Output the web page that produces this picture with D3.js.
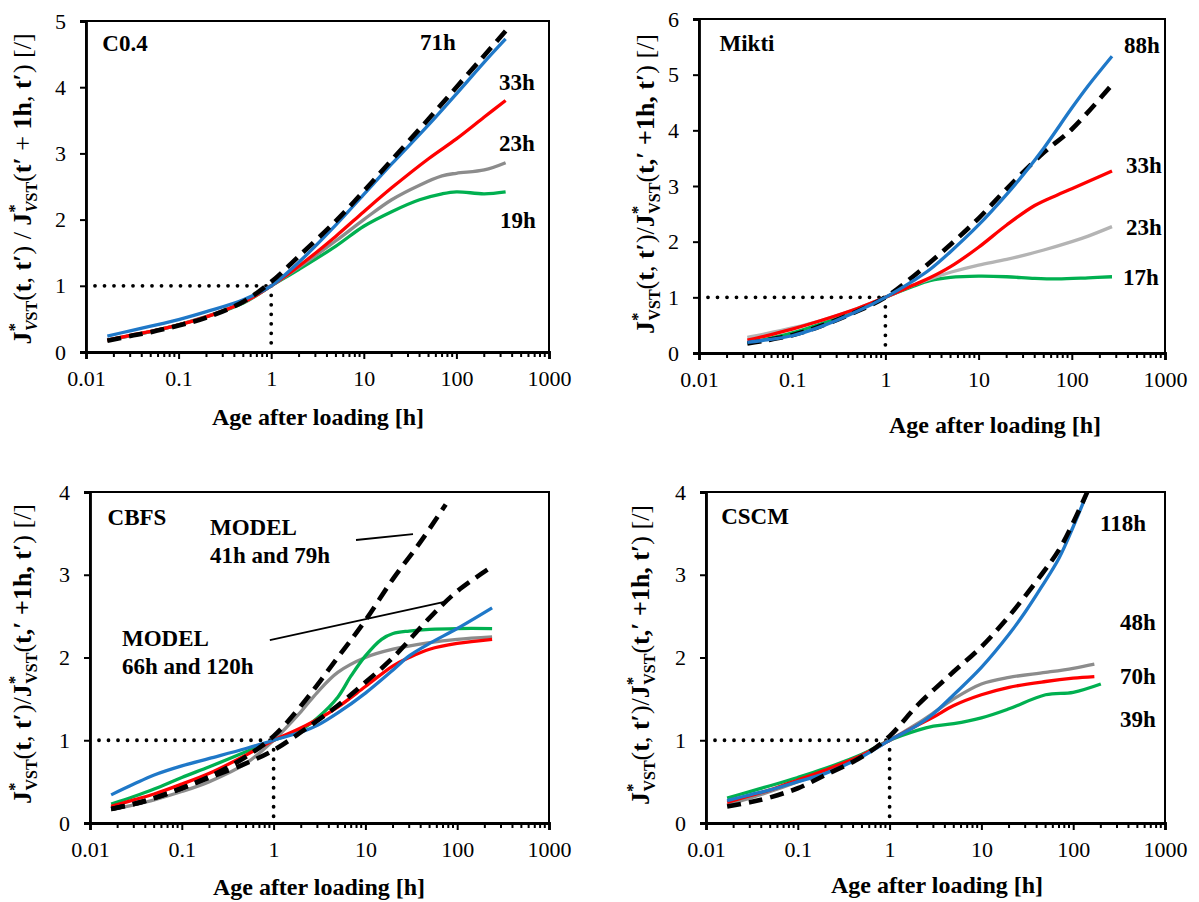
<!DOCTYPE html>
<html><head><meta charset="utf-8">
<script src="https://cdn.jsdelivr.net/npm/d3@7"></script>
<style>
body{margin:0;background:#fff;}
svg{display:block;}
text{font-family:"Liberation Serif","Times New Roman",serif;fill:#000;}
</style>
</head><body>
<svg id="chart" width="1199" height="902"></svg>
<script>
// ---------- shared axis data ----------
const xTickValues = [0.01, 0.1, 1, 10, 100, 1000];
const xTickLabels = ["0.01", "0.1", "1", "10", "100", "1000"];
const xAxisTitle = "Age after loading [h]";

// ---------- Panel 1: C0.4 ----------
const c04YTicks = [0, 1, 2, 3, 4, 5];
const c04ModelX = [0.017,0.03,0.05,0.1,0.2,0.5,1,2,5,10,20,50,100,200,340];
const c04ModelY = [0.17,0.24,0.30,0.40,0.52,0.76,1.06,1.45,1.98,2.43,2.9,3.52,4.0,4.48,4.85];
const c04_71hX = [0.017,0.03,0.05,0.1,0.2,0.5,1,2,5,10,20,50,100,200,340];
const c04_71hY = [0.24,0.32,0.39,0.49,0.61,0.79,1.0,1.36,1.92,2.38,2.84,3.43,3.9,4.38,4.73];
const c04_33hX = [0.017,0.03,0.05,0.1,0.2,0.5,1,2,5,10,20,50,100,200,340];
const c04_33hY = [0.18,0.25,0.31,0.41,0.53,0.75,1.0,1.3,1.75,2.12,2.48,2.92,3.22,3.55,3.8];
const c04_23hX = [0.017,0.1,0.5,1,2,5,10,20,40,70,100,200,340];
const c04_23hY = [0.18,0.41,0.75,1.0,1.28,1.68,2.0,2.3,2.52,2.66,2.7,2.75,2.86];
const c04_19hX = [0.017,0.1,0.5,1,2,5,10,20,40,70,100,200,340];
const c04_19hY = [0.18,0.41,0.74,1.0,1.25,1.6,1.9,2.12,2.3,2.39,2.42,2.39,2.42];

// ---------- Panel 2: Mikti ----------
const miktiYTicks = [0, 1, 2, 3, 4, 5, 6];
const miktiModelX = [0.033,0.05,0.1,0.2,0.5,1,2,5,10,20,50,100,270];
const miktiModelY = [0.17,0.22,0.32,0.48,0.75,1.0,1.38,1.95,2.42,2.95,3.6,4.02,4.82];
const mikti_88hX = [0.033,0.05,0.1,0.2,0.5,1,2,3,5,10,20,30,50,100,150,270];
const mikti_88hY = [0.19,0.23,0.31,0.47,0.75,1.0,1.3,1.5,1.82,2.3,2.85,3.2,3.68,4.4,4.8,5.33];
const mikti_33hX = [0.033,0.05,0.1,0.2,0.5,1,2,3,5,10,20,40,70,100,150,270];
const mikti_33hY = [0.23,0.3,0.43,0.58,0.8,1.0,1.22,1.35,1.55,1.9,2.3,2.65,2.84,2.95,3.08,3.27];
const mikti_23hX = [0.033,0.05,0.1,0.2,0.5,1,2,3,5,10,20,50,100,150,270];
const mikti_23hY = [0.28,0.34,0.45,0.58,0.8,1.0,1.22,1.33,1.45,1.58,1.68,1.85,2.0,2.1,2.27];
const mikti_17hX = [0.033,0.05,0.1,0.2,0.5,1,2,3,5,10,20,40,70,150,270];
const mikti_17hY = [0.18,0.24,0.36,0.52,0.77,1.0,1.2,1.3,1.36,1.38,1.37,1.34,1.33,1.35,1.37];

// ---------- Panel 3: CBFS ----------
const cbfsYTicks = [0, 1, 2, 3, 4];
const cbfsModelAX = [0.017,0.03,0.05,0.1,0.2,0.5,1,2,5,10,20,40,75];
const cbfsModelAY = [0.17,0.23,0.3,0.42,0.56,0.8,1.05,1.42,2.0,2.45,2.95,3.4,3.85];
const cbfsModelBX = [0.017,0.03,0.05,0.1,0.2,0.5,1,2,5,10,20,50,100,240];
const cbfsModelBY = [0.17,0.23,0.3,0.42,0.55,0.72,0.88,1.1,1.42,1.7,2.0,2.48,2.8,3.1];
const cbfsBlueX = [0.017,0.03,0.05,0.1,0.2,0.5,1,2,3,5,10,20,30,50,100,240];
const cbfsBlueY = [0.34,0.47,0.58,0.69,0.78,0.9,1.0,1.1,1.18,1.33,1.57,1.85,2.02,2.17,2.35,2.6];
const cbfsRedX = [0.017,0.03,0.05,0.1,0.2,0.5,1,2,3,5,10,20,30,50,100,240];
const cbfsRedY = [0.2,0.28,0.35,0.47,0.6,0.82,1.0,1.15,1.25,1.4,1.65,1.9,2.0,2.1,2.17,2.22];
const cbfsGreenX = [0.017,0.03,0.05,0.1,0.2,0.5,1,2,3,5,7,10,15,20,30,50,100,240];
const cbfsGreenY = [0.23,0.32,0.41,0.55,0.68,0.86,1.0,1.13,1.27,1.52,1.78,2.02,2.22,2.29,2.32,2.34,2.35,2.35];
const cbfsGrayX = [0.017,0.03,0.05,0.1,0.2,0.5,1,2,3,5,10,20,50,100,240];
const cbfsGrayY = [0.16,0.22,0.28,0.38,0.5,0.72,1.0,1.35,1.58,1.82,2.0,2.1,2.18,2.22,2.25];
const cbfsModelLabels = ["MODEL", "41h and 79h", "MODEL", "66h and 120h"];
const cbfsPointerX1 = [7.9, 0.91];
const cbfsPointerY1 = [3.42, 2.21];
const cbfsPointerX2 = [33, 79];
const cbfsPointerY2 = [3.49, 2.68];

// ---------- Panel 4: CSCM ----------
const cscmYTicks = [0, 1, 2, 3, 4];
const cscmModelX = [0.017,0.03,0.05,0.1,0.2,0.5,1,2,5,10,20,45,70,100,145];
const cscmModelY = [0.2,0.25,0.31,0.42,0.58,0.8,1.05,1.42,1.83,2.13,2.5,3.0,3.3,3.63,4.02];
const cscm_118hX = [0.017,0.03,0.05,0.1,0.2,0.5,1,2,3,5,10,20,30,45,70,100,145,160];
const cscm_118hY = [0.27,0.34,0.4,0.5,0.6,0.8,1.0,1.18,1.32,1.55,1.88,2.28,2.55,2.85,3.2,3.58,4.02,4.16];
const cscm_48hX = [0.017,0.03,0.05,0.1,0.2,0.5,1,2,3,5,10,20,50,100,170];
const cscm_48hY = [0.22,0.3,0.38,0.5,0.63,0.82,1.0,1.2,1.33,1.5,1.68,1.76,1.82,1.87,1.92];
const cscm_70hX = [0.017,0.03,0.05,0.1,0.2,0.5,1,2,3,5,10,20,50,100,170];
const cscm_70hY = [0.25,0.33,0.4,0.52,0.64,0.82,1.0,1.18,1.28,1.42,1.55,1.64,1.71,1.75,1.77];
const cscm_39hX = [0.017,0.03,0.05,0.1,0.2,0.5,1,2,3,5,10,20,50,100,200];
const cscm_39hY = [0.3,0.38,0.45,0.55,0.66,0.83,1.0,1.12,1.17,1.2,1.27,1.38,1.55,1.58,1.68];

// ---------- styles ----------
const BLUE = "#1f78c8", RED = "#ff0000", GREEN = "#00b050", GRAY = "#8c8c8c", LGRAY = "#b4b4b4";

const zip = (xs, ys) => xs.map((v, i) => [v, ys[i]]);
const svg = d3.select("#chart");

const panels = [
  { id: "p1", left: 86, right: 549, top: 21, bottom: 352, yMax: 5, yTicks: c04YTicks,
    titleX: 318, titleY: 425, yTitleX: 22, yTitleY: 189, yTitleStyle: 1,
    series: [
      { d: zip(c04_19hX, c04_19hY), c: GREEN },
      { d: zip(c04_23hX, c04_23hY), c: GRAY },
      { d: zip(c04_33hX, c04_33hY), c: RED },
      { d: zip(c04_71hX, c04_71hY), c: BLUE },
      { d: zip(c04ModelX, c04ModelY), c: "#000", dash: true }
    ],
    labels: [
      { t: "C0.4", x: 39, y: 22 }, { t: "71h", x: 352, y: 21 }, { t: "33h", x: 431, y: 61 },
      { t: "23h", x: 431, y: 122 }, { t: "19h", x: 432, y: 199 }
    ] },
  { id: "p2", left: 699, right: 1165, top: 19, bottom: 353, yMax: 6, yTicks: miktiYTicks,
    titleX: 995, titleY: 433, yTitleX: 645, yTitleY: 184, yTitleStyle: 2,
    series: [
      { d: zip(mikti_17hX, mikti_17hY), c: GREEN },
      { d: zip(mikti_23hX, mikti_23hY), c: LGRAY },
      { d: zip(mikti_33hX, mikti_33hY), c: RED },
      { d: zip(miktiModelX, miktiModelY), c: "#000", dash: true },
      { d: zip(mikti_88hX, mikti_88hY), c: BLUE }
    ],
    labels: [
      { t: "Mikti", x: 48, y: 24 }, { t: "88h", x: 443, y: 26 }, { t: "33h", x: 445, y: 146 },
      { t: "23h", x: 445, y: 208 }, { t: "17h", x: 442, y: 258 }
    ] },
  { id: "p3", left: 90, right: 549, top: 492, bottom: 823, yMax: 4, yTicks: cbfsYTicks,
    titleX: 319, titleY: 895, yTitleX: 22, yTitleY: 654, yTitleStyle: 2,
    series: [
      { d: zip(cbfsGrayX, cbfsGrayY), c: GRAY },
      { d: zip(cbfsGreenX, cbfsGreenY), c: GREEN },
      { d: zip(cbfsRedX, cbfsRedY), c: RED },
      { d: zip(cbfsBlueX, cbfsBlueY), c: BLUE },
      { d: zip(cbfsModelAX, cbfsModelAY), c: "#000", dash: true },
      { d: zip(cbfsModelBX, cbfsModelBY), c: "#000", dash: true }
    ],
    labels: [
      { t: "CBFS", x: 47, y: 25 },
      { t: cbfsModelLabels[0], x: 120, y: 35, a: "start" }, { t: cbfsModelLabels[1], x: 120, y: 63, a: "start" },
      { t: cbfsModelLabels[2], x: 32, y: 146, a: "start" }, { t: cbfsModelLabels[3], x: 32, y: 174, a: "start" }
    ],
    pointers: cbfsPointerX1.map((v, i) => [[v, cbfsPointerY1[i]], [cbfsPointerX2[i], cbfsPointerY2[i]]]) },
  { id: "p4", left: 706, right: 1165, top: 492, bottom: 823, yMax: 4, yTicks: cscmYTicks,
    titleX: 937, titleY: 893, yTitleX: 640, yTitleY: 655, yTitleStyle: 2,
    series: [
      { d: zip(cscm_39hX, cscm_39hY), c: GREEN },
      { d: zip(cscm_48hX, cscm_48hY), c: GRAY },
      { d: zip(cscm_70hX, cscm_70hY), c: RED },
      { d: zip(cscm_118hX, cscm_118hY), c: BLUE },
      { d: zip(cscmModelX, cscmModelY), c: "#000", dash: true }
    ],
    labels: [
      { t: "CSCM", x: 49, y: 24 }, { t: "118h", x: 417, y: 31 }, { t: "48h", x: 432, y: 130 },
      { t: "70h", x: 432, y: 184 }, { t: "39h", x: 432, y: 227 }
    ] }
];

function yTitle(g, p) {
  const t = g.append("text")
    .attr("transform", `translate(${p.yTitleX + 9},${p.yTitleY}) rotate(-90)`)
    .attr("text-anchor", "middle")
    .style("font-size", "26px");
  const parts1 = [
    ["J","b"],["*","sup"],["VST","sub1"],["(","n"],["t","b"],[", ","n"],["t′","b"],[") / ","n"],
    ["J","b"],["*","sup"],["VST","sub1"],["(","n"],["t′","b"],[" + ","n"],["1h","b"],[", ","n"],["t′","b"],[") [/]","n"]
  ];
  const parts2 = [
    ["J","b"],["*","sup"],["VST","sub2"],["(","n"],["t","b"],[", ","n"],["t′","b"],[")/","n"],
    ["J","b"],["*","sup"],["VST","sub2"],["(","n"],["t,′ +1h, t′","b"],[") [/]","n"]
  ];
  const parts = p.yTitleStyle === 1 ? parts1 : parts2;
  let cur = 0;
  parts.forEach(([s, k]) => {
    if (k === "sup") {
      t.append("tspan").text(s).style("font-size", "17px").style("font-weight", "bold")
        .attr("dy", -11 - cur);
      cur = -11;
    } else if (k === "sub1" || k === "sub2") {
      const ts = t.append("tspan").style("font-size", "16px").style("font-weight", "bold")
        .attr("dx", -8).attr("dy", 6 - cur);
      if (k === "sub1") {
        ts.append("tspan").text("V").style("font-style", "italic");
        ts.append("tspan").text("ST");
      } else ts.text(s);
      cur = 6;
    } else {
      const ts = t.append("tspan").text(s).style("font-weight", k === "b" ? "bold" : "normal");
      if (cur !== 0) { ts.attr("dy", -cur); cur = 0; }
    }
  });
}

panels.forEach(p => {
  const x = d3.scaleLog().domain([0.01, 1000]).range([p.left, p.right]);
  const y = d3.scaleLinear().domain([0, p.yMax]).range([p.bottom, p.top]);
  const g = svg.append("g");

  g.append("clipPath").attr("id", "clip-" + p.id).append("rect")
    .attr("x", p.left).attr("y", p.top).attr("width", p.right - p.left).attr("height", p.bottom - p.top);

  // reference dotted lines at (1h, 1)
  const dot = g.append("g").attr("stroke", "#000").attr("stroke-width", 3.8)
    .attr("stroke-linecap", "round").attr("stroke-dasharray", "0,9.5").attr("fill", "none");
  dot.append("line").attr("x1", x(0.01) + 9).attr("x2", x(1)).attr("y1", y(1)).attr("y2", y(1));
  dot.append("line").attr("x1", x(1)).attr("x2", x(1)).attr("y1", y(1)).attr("y2", y(0) - 2);

  const line = d3.line().x(d => x(d[0])).y(d => y(d[1])).curve(d3.curveCatmullRom.alpha(0.5));
  const sg = g.append("g").attr("clip-path", `url(#clip-${p.id})`);
  p.series.forEach(s => {
    sg.append("path").attr("d", line(s.d)).attr("fill", "none").attr("stroke", s.c)
      .attr("stroke-width", s.dash ? 4.6 : 3.3)
      .attr("stroke-dasharray", s.dash ? "14,8" : null)
      .attr("stroke-linejoin", "round");
  });

  if (p.pointers) {
    p.pointers.forEach(pt => {
      g.append("line").attr("x1", x(pt[0][0])).attr("y1", y(pt[0][1]))
        .attr("x2", x(pt[1][0])).attr("y2", y(pt[1][1])).attr("stroke", "#000").attr("stroke-width", 1.8);
    });
  }

  // frame
  g.append("rect").attr("x", p.left).attr("y", p.top).attr("width", p.right - p.left)
    .attr("height", p.bottom - p.top).attr("fill", "none").attr("stroke", "#000").attr("stroke-width", 2);

  // x axis
  const xAxis = d3.axisBottom(x).tickValues(xTickValues).tickFormat((d, i) => xTickLabels[i])
    .tickSize(7).tickPadding(11);
  const xg = g.append("g").attr("transform", `translate(0,${p.bottom})`).call(xAxis);
  xg.select(".domain").attr("stroke-width", 2.8);
  xg.selectAll(".tick line").attr("stroke-width", 2);
  xg.selectAll("text").style("font-size", "22px").style("font-family", "Liberation Serif, serif");
  const minor = [];
  for (let e = -2; e < 3; e++) for (let k = 2; k <= 9; k++) minor.push(k * Math.pow(10, e));
  g.append("g").selectAll("line").data(minor).join("line")
    .attr("x1", d => x(d)).attr("x2", d => x(d)).attr("y1", p.bottom).attr("y2", p.bottom + 5)
    .attr("stroke", "#000").attr("stroke-width", 2);

  // y axis
  const yAxis = d3.axisLeft(y).tickValues(p.yTicks).tickFormat(d3.format("d")).tickSize(6).tickPadding(14);
  const yg = g.append("g").attr("transform", `translate(${p.left},0)`).call(yAxis);
  yg.select(".domain").attr("stroke-width", 2.8);
  yg.selectAll(".tick line").attr("stroke-width", 2);
  yg.selectAll("text").style("font-size", "22px").style("font-family", "Liberation Serif, serif");

  // titles
  g.append("text").attr("x", p.titleX).attr("y", p.titleY).attr("text-anchor", "middle")
    .style("font-size", "24px").style("font-weight", "bold").text(xAxisTitle);
  yTitle(g, p);

  // labels
  p.labels.forEach(l => {
    g.append("text").attr("x", p.left + l.x).attr("y", p.top + l.y).attr("dy", "0.35em")
      .attr("text-anchor", l.a || "middle").style("font-size", "23px").style("font-weight", "bold").text(l.t);
  });
});
</script>
</body></html>
